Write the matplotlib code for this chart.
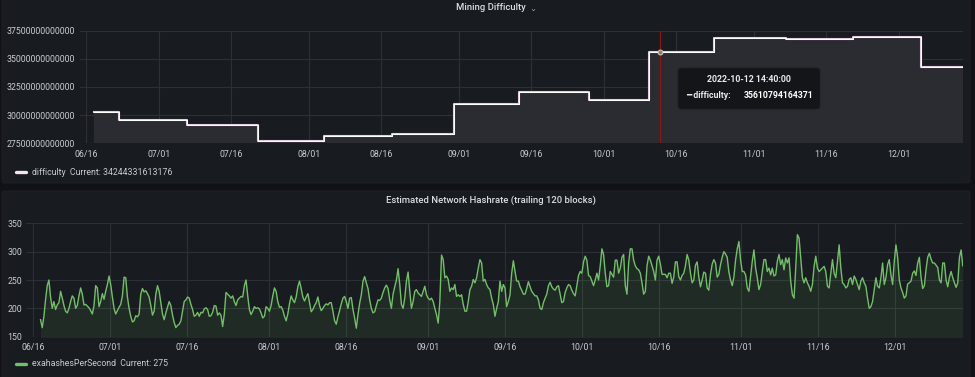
import matplotlib
matplotlib.use("Agg")
import matplotlib.pyplot as plt
import matplotlib.dates as mdates
from matplotlib.patches import FancyBboxPatch
from matplotlib.ticker import FuncFormatter, FixedLocator
import pandas as pd

plt.rcParams['font.family'] = ['Roboto', 'DejaVu Sans']

# difficulty adjustments (step series)
diff_dates = ['2022-06-17 14:00', '2022-06-22 16:00', '2022-07-06 20:00', '2022-07-21 12:00',
              '2022-08-04 05:00', '2022-08-18 05:00', '2022-08-31 00:00', '2022-09-13 10:00',
              '2022-09-27 22:00', '2022-10-10 08:00', '2022-10-23 20:00', '2022-11-07 14:00',
              '2022-11-21 14:00', '2022-12-05 16:00', '2022-12-14 06:00']
diff_values = [30283000000000, 29570000000000, 29152000000000, 27693000000000,
               28175000000000, 28352000000000, 30977000000000, 32045000000000,
               31361000000000, 35610794164371, 36838000000000, 36762000000000,
               36950000000000, 34244331613176, 34244331613176]

# estimated network hashrate, EH/s at even spacing
hash_start = '2022-06-17 12:00'
hash_end = '2022-12-14 06:00'
hashrate = [
    180, 166, 185, 215, 240, 250, 220, 200, 212, 198, 206, 210, 230, 218, 205, 195, 192, 200, 212, 222,
    218, 200, 205, 222, 236, 225, 206, 207, 204, 201, 196, 190, 205, 240, 236, 203, 212, 226, 216, 230,
    242, 257, 242, 220, 200, 190, 196, 202, 207, 222, 255, 254, 220, 200, 186, 176, 178, 187, 185, 190,
    225, 235, 229, 231, 226, 220, 205, 188, 195, 225, 240, 230, 210, 190, 180, 192, 202, 212, 205, 188,
    175, 166, 170, 172, 178, 195, 212, 215, 220, 218, 207, 198, 186, 188, 193, 186, 193, 192, 199, 201,
    198, 186, 187, 193, 205, 204, 188, 192, 188, 168, 190, 228, 225, 222, 218, 222, 212, 205, 215, 218,
    221, 220, 240, 250, 222, 198, 189, 195, 203, 200, 201, 199, 192, 183, 186, 203, 200, 195, 205, 222,
    236, 230, 212, 202, 203, 197, 186, 178, 190, 208, 222, 215, 210, 220, 238, 248, 235, 220, 213, 220,
    226, 210, 194, 198, 205, 210, 220, 205, 196, 200, 205, 208, 206, 210, 210, 195, 178, 172, 185, 196,
    208, 218, 221,
    212, 200, 218, 219, 198, 183, 165, 189, 209, 224, 248, 256, 245, 235, 215, 200, 192, 194, 205, 215,
    214, 218, 228, 236, 241, 235, 215, 200, 225, 238, 250, 270, 242, 207, 200, 218, 248, 264, 230, 200,
    212, 230, 233, 227, 224, 221, 230, 239, 224, 218, 215, 218, 212, 200, 189, 174, 212, 294, 286, 254,
    257, 251, 230, 236, 233, 242, 221, 224, 221, 224, 207, 195, 195, 212, 233, 239, 251, 245, 254, 271,
    286, 280, 248, 251, 242, 236, 233, 218, 207, 186, 200, 212, 248, 230, 242, 236, 203, 212, 224, 262,
    284, 265, 248, 248, 238, 232, 225, 225, 235, 247, 238, 230, 226, 222, 222, 215, 200, 198, 210, 218,
    225, 240, 246, 238, 234, 232, 238, 240, 225, 210, 212, 228, 236, 242, 240, 232, 226, 222, 240, 258,
    265, 262, 282, 292, 285, 258, 256, 248, 240, 250, 262, 250, 275, 305, 295, 262, 238, 240, 265, 260,
    255, 285, 285, 262, 271, 290, 295, 240, 225, 280, 305, 305, 285, 275, 270, 268, 262, 245, 225, 230,
    275, 292, 285, 275, 265, 250,
    285, 292, 278, 260, 260, 260, 254, 262, 262, 244, 255, 282, 282, 256, 250, 258, 262, 275, 295, 285,
    262, 245, 250, 276, 282, 255, 238, 250, 264, 262, 236, 232, 260, 278, 286, 280, 255, 260, 277, 290,
    300, 296, 290, 264, 250, 240, 255, 285, 305, 318, 285, 265, 265, 259, 236, 230, 257, 283, 303, 271,
    254, 233, 242, 265, 286, 286, 265, 271, 259, 271, 257, 259, 283, 295, 277, 286, 268, 289, 280, 289,
    248, 224, 218, 271, 330, 324, 289, 254, 245, 254, 245, 239, 230, 242, 274, 292, 271, 265, 268, 271,
    274, 265, 239, 236, 262, 286, 262, 254, 283, 312, 271, 245, 242, 236, 239, 251, 254, 242, 257, 251,
    242, 233, 248, 254, 245, 239, 218, 200, 203, 212, 233, 254, 239, 236, 254, 280, 242, 254, 277, 286,
    259, 242, 283, 312, 290, 250, 236, 228, 218, 222, 243, 245, 248, 262, 266, 258, 280, 290, 255, 235,
    240, 268, 290, 297, 287, 280, 280, 276, 272, 250, 245, 280, 280, 250, 238, 255, 265, 254, 245, 237,
    245, 290, 303, 275,
]

hover_time = '2022-10-12 14:40'
hover_value = 35610794164371

page_bg = '#111217'
panel_bg = '#181b1f'
grid_c = '#2c2f35'
text_c = '#c7cbd3'
x_range = (pd.Timestamp('2022-06-14 16:00'), pd.Timestamp('2022-12-14 07:00'))

W, H = 975, 377
fig = plt.figure(figsize=(W / 100, H / 100), dpi=100, facecolor=page_bg)


def px(x0, y_top, w, h):
    # pixel box (top-left origin) -> figure fraction rect
    return [x0 / W, (H - y_top - h) / H, w / W, h / H]


# panel backgrounds
for (x0, yt, w, h) in [(2, -4, 968, 187), (2, 191, 968, 192)]:
    fig.add_artist(FancyBboxPatch((x0 / 100, (H - yt - h) / 100), w / 100, h / 100,
                                  boxstyle='round,pad=0,rounding_size=0.03',
                                  transform=fig.dpi_scale_trans,
                                  facecolor=panel_bg, edgecolor='#202226', lw=0.6, zorder=0))


def style_axes(ax):
    ax.set_facecolor('none')
    for s in ax.spines.values():
        s.set_visible(False)
    ax.grid(True, color=grid_c, lw=0.8)
    ax.set_axisbelow(True)
    ax.tick_params(length=0, labelsize=6.3, labelcolor=text_c)
    ax.tick_params(axis='x', pad=4.5)
    ax.xaxis.set_major_locator(mdates.DayLocator(bymonthday=[1, 16]))
    ax.xaxis.set_major_formatter(mdates.DateFormatter('%m/%d'))
    ax.set_xlim(*x_range)


# ---- Mining Difficulty ----
ax1 = fig.add_axes(px(80, 30.7, 883, 112.6))
style_axes(ax1)
ax1.tick_params(axis='y', pad=4)
d_dates = pd.to_datetime(diff_dates)
ax1.fill_between(d_dates, 0, diff_values, step='post', color='#2b2c31', zorder=1)
ax1.plot(d_dates, diff_values, drawstyle='steps-post', color='#e3cde2', lw=1.5, zorder=2)
ax1.plot(d_dates, diff_values, drawstyle='steps-post', color='#ffffff', lw=0.7, zorder=3)
ax1.set_ylim(27.5e12, 37.5e12)
ax1.yaxis.set_major_locator(FixedLocator([27.5e12, 30e12, 32.5e12, 35e12, 37.5e12]))
ax1.yaxis.set_major_formatter(FuncFormatter(lambda v, p: f'{v:.0f}'))
ht = pd.Timestamp(hover_time)
ax1.axvline(ht, color='#8a1616', lw=0.9, zorder=4)
ax1.plot([ht], [hover_value], 'o', ms=3.5, mfc='#8c7c70', mec='#d8cfc8', mew=0.7, zorder=5)

fig.text(491 / W, 1 - 8 / H, 'Mining Difficulty', ha='center', va='center',
         fontsize=6.8, color='#d8dbe0', fontweight='medium')
fig.text(533 / W, 1 - 8.5 / H, '⌄', ha='center', va='center', fontsize=6,
         color='#9a9ea6', family=['DejaVu Sans'])

# tooltip
fig.add_artist(FancyBboxPatch((678 / 100, (H - 109) / 100), 142 / 100, 41 / 100,
                              boxstyle='round,pad=0,rounding_size=0.03',
                              transform=fig.dpi_scale_trans,
                              facecolor='#141518', edgecolor='#1e2024', lw=0.6, zorder=10))
fig.text(749 / W, 1 - 80 / H, '2022-10-12 14:40:00', ha='center', va='center',
         fontsize=6.3, color='#e6e8ec', fontweight='bold', zorder=11)
fig.text(686 / W, 1 - 95 / H, '━ difficulty:', ha='left', va='center',
         fontsize=6.3, color='#e6e8ec', fontweight='bold', zorder=11,
         family=['Roboto', 'DejaVu Sans'])
fig.text(813 / W, 1 - 95 / H, f'{hover_value}', ha='right', va='center',
         fontsize=6.3, color='#ffffff', fontweight='bold', zorder=11)

# legend
fig.add_artist(plt.Line2D([16 / W, 26 / W], [1 - 172 / H] * 2, color='#f2e4f0', lw=2.4,
                          solid_capstyle='round'))
fig.text(32 / W, 1 - 172 / H, f'difficulty  Current: {diff_values[-1]}', ha='left',
         va='center', fontsize=6.3, color=text_c)

# ---- Estimated Network Hashrate ----
ax2 = fig.add_axes(px(26, 223.3, 937, 113.4))
style_axes(ax2)
ax2.tick_params(axis='y', pad=3)
h_times = pd.date_range(hash_start, hash_end, periods=len(hashrate))
ax2.fill_between(h_times, 0, hashrate, color='#73bf69', alpha=0.1, lw=0, zorder=1)
ax2.plot(h_times, hashrate, color='#73bf69', lw=1.0, zorder=2)
ax2.set_ylim(150, 350)
ax2.yaxis.set_major_locator(FixedLocator([150, 200, 250, 300, 350]))

fig.text(491 / W, 1 - 200.5 / H, 'Estimated Network Hashrate (trailing 120 blocks)',
         ha='center', va='center', fontsize=6.8, color='#d8dbe0', fontweight='medium')
fig.add_artist(plt.Line2D([16 / W, 26 / W], [1 - 364 / H] * 2, color='#73bf69', lw=2.4,
                          solid_capstyle='round'))
fig.text(32 / W, 1 - 364 / H, f'exahashesPerSecond  Current: {hashrate[-1]}', ha='left',
         va='center', fontsize=6.3, color=text_c)

fig.savefig('out.png', dpi=100, facecolor=page_bg)
